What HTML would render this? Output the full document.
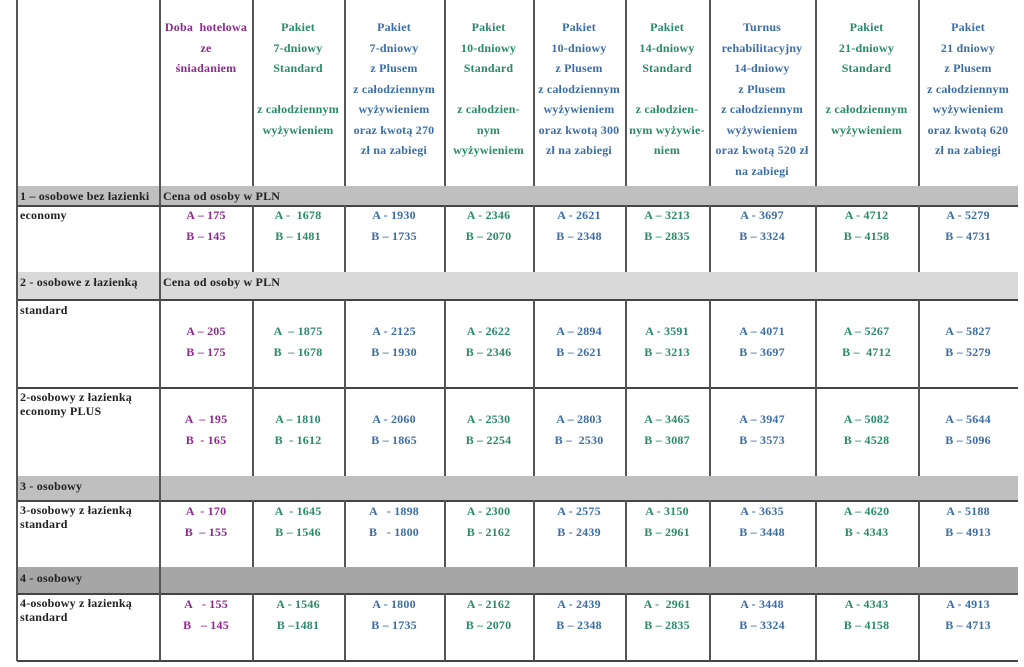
<!DOCTYPE html>
<html><head><meta charset="utf-8"><style>
body{margin:0;width:1024px;height:667px;background:#fff;position:relative;overflow:hidden;font-family:"Liberation Serif",serif;font-weight:bold;font-size:12px;letter-spacing:0.2px}
.g{position:absolute;left:17px;width:1001px}
.h{position:absolute;height:1.5px;background:#444;left:17px;width:1001px}
.v{position:absolute;width:1.5px;background:#555}
.t{position:absolute;text-align:center;line-height:20.5px;white-space:nowrap}
.l{position:absolute;left:20px;color:#222;line-height:14px;white-space:nowrap}
.p{color:#8e2a8e}.gr{color:#2a8a6a}.b{color:#3c6ea6}
</style></head><body>
<div class="g" style="top:186px;height:19px;background:#bfbfbf"></div>
<div class="g" style="top:272px;height:28px;background:#d9d9d9"></div>
<div class="g" style="top:476px;height:24px;background:#bfbfbf"></div>
<div class="g" style="top:567px;height:26px;background:#a6a6a6"></div>
<div class="h" style="top:205px"></div>
<div class="h" style="top:299px"></div>
<div class="h" style="top:387px"></div>
<div class="h" style="top:500px"></div>
<div class="h" style="top:593px"></div>
<div class="h" style="top:660px"></div>
<div class="v" style="left:16px;top:0;height:661px"></div>
<div class="v" style="left:159px;top:0;height:661px"></div>
<div id="vv"></div>
<script>
var xs=[252,344,444,533,625,709,815,918];
var segs=[[0,186],[205,272],[300,476],[500,567],[593,661]];
var h='';
xs.forEach(function(x){segs.forEach(function(s){h+='<div class="v" style="left:'+x+'px;top:'+s[0]+'px;height:'+(s[1]-s[0])+'px"></div>';});});
document.getElementById('vv').innerHTML=h;
</script>
<div class="t p" style="left:160px;width:92px;top:17px">Doba &nbsp;hotelowa<br>ze<br>śniadaniem</div>
<div class="t gr" style="left:252px;width:92px;top:17px">Pakiet<br>7-dniowy<br>Standard<br><br>z całodziennym<br>wyżywieniem</div>
<div class="t b" style="left:344px;width:100px;top:17px">Pakiet<br>7-dniowy<br>z Plusem<br>z całodziennym<br>wyżywieniem<br>oraz kwotą 270<br>zł na zabiegi</div>
<div class="t gr" style="left:444px;width:89px;top:17px">Pakiet<br>10-dniowy<br>Standard<br><br>z całodzien-<br>nym<br>wyżywieniem</div>
<div class="t b" style="left:533px;width:92px;top:17px">Pakiet<br>10-dniowy<br>z Plusem<br>z całodziennym<br>wyżywieniem<br>oraz kwotą 300<br>zł na zabiegi</div>
<div class="t gr" style="left:625px;width:84px;top:17px">Pakiet<br>14-dniowy<br>Standard<br><br>z całodzien-<br>nym wyżywie-<br>niem</div>
<div class="t b" style="left:709px;width:106px;top:17px">Turnus<br>rehabilitacyjny<br>14-dniowy<br>z Plusem<br>z całodziennym<br>wyżywieniem<br>oraz kwotą 520 zł<br>na zabiegi</div>
<div class="t gr" style="left:815px;width:103px;top:17px">Pakiet<br>21-dniowy<br>Standard<br><br>z całodziennym<br>wyżywieniem</div>
<div class="t b" style="left:918px;width:100px;top:17px">Pakiet<br>21 dniowy<br>z Plusem<br>z całodziennym<br>wyżywieniem<br>oraz kwotą 620<br>zł na zabiegi</div>
<div class="l" style="top:189px">1 – osobowe bez łazienki</div>
<div class="l" style="left:163px;top:189px">Cena od osoby w PLN</div>
<div class="l" style="top:208px">economy</div>
<div class="l" style="top:275px">2 - osobowe z łazienką</div>
<div class="l" style="left:163px;top:275px">Cena od osoby w PLN</div>
<div class="l" style="top:303px">standard</div>
<div class="l" style="top:390px">2-osobowy z łazienką<br>economy PLUS</div>
<div class="l" style="top:479px">3 - osobowy</div>
<div class="l" style="top:503px">3-osobowy z łazienką<br>standard</div>
<div class="l" style="top:571px">4 - osobowy</div>
<div class="l" style="top:596px">4-osobowy z łazienką<br>standard</div>
<div id="data"></div>
<script>
var cols=[[160,92,'p'],[252,92,'gr'],[344,100,'b'],[444,89,'gr'],[533,92,'b'],[625,84,'gr'],[709,106,'b'],[815,103,'gr'],[918,100,'b']];
var rows=[[205,["A – 175<br>B – 145","A -  1678<br>B – 1481","A - 1930<br>B – 1735","A - 2346<br>B – 2070","A - 2621<br>B – 2348","A – 3213<br>B – 2835","A - 3697<br>B – 3324","A - 4712<br>B – 4158","A - 5279<br>B – 4731"]],
[321,["A – 205<br>B – 175","A  – 1875<br>B  – 1678","A - 2125<br>B – 1930","A - 2622<br>B – 2346","A – 2894<br>B – 2621","A - 3591<br>B – 3213","A – 4071<br>B – 3697","A – 5267<br>B –  4712","A – 5827<br>B – 5279"]],
[409,["A  – 195<br>B  - 165","A – 1810<br>B  - 1612","A - 2060<br>B – 1865","A - 2530<br>B – 2254","A – 2803<br>B –  2530","A – 3465<br>B – 3087","A – 3947<br>B – 3573","A – 5082<br>B – 4528","A – 5644<br>B – 5096"]],
[501,["A  - 170<br>B  – 155","A  - 1645<br>B – 1546","A   - 1898<br>B   - 1800","A - 2300<br>B - 2162","A - 2575<br>B - 2439","A - 3150<br>B – 2961","A - 3635<br>B – 3448","A – 4620<br>B - 4343","A - 5188<br>B – 4913"]],
[594,["A   - 155<br>B   – 145","A - 1546<br>B –1481","A - 1800<br>B – 1735","A - 2162<br>B – 2070","A - 2439<br>B – 2348","A -  2961<br>B – 2835","A - 3448<br>B – 3324","A - 4343<br>B – 4158","A - 4913<br>B – 4713"]]];
var h='';
rows.forEach(function(r){r[1].forEach(function(s,i){var c=cols[i];h+='<div class="t '+c[2]+'" style="left:'+c[0]+'px;width:'+c[1]+'px;top:'+r[0]+'px;white-space:pre">'+s+'</div>';});});
document.getElementById('data').innerHTML=h;
</script>
</body></html>
